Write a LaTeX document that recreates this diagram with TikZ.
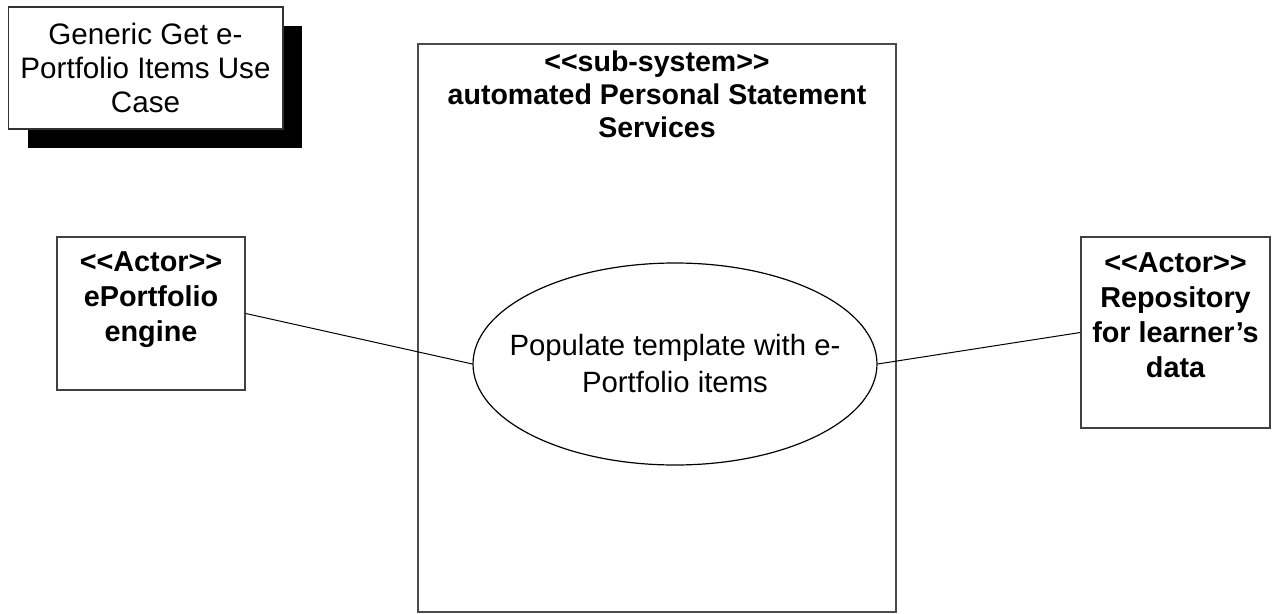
\documentclass[tikz,border=0pt]{standalone}
\usepackage{fontspec}
\setmainfont{Liberation Sans}
\usepackage{tikz}
\usetikzlibrary{calc,positioning,shapes,shadows,arrows}
\newcommand{\stereo}[1]{<\kern0pt<#1>\kern0pt>}
\tikzstyle{NoteBox} = [rectangle, draw=black!80, line width=1pt, fill=white,
    minimum width=206pt, minimum height=91.5pt, align=center,
    font=\fontsize{22.2}{25.5}\selectfont,
    drop shadow={shadow xshift=14.6pt, shadow yshift=-14.6pt, fill=black, opacity=1}]
\tikzstyle{SubSystem} = [rectangle, draw=black!70, line width=1.5pt,
    minimum width=358.5pt, minimum height=426pt]
\tikzstyle{ActorBox} = [rectangle, draw=black!75, line width=1.2pt]
\tikzstyle{BoldText} = [align=center, inner sep=0pt, font=\bfseries\fontsize{21.6}{26.2}\selectfont]
\tikzstyle{UseCase} = [ellipse, draw=black, line width=0.9pt,
    minimum width=303pt, minimum height=151.5pt]
\tikzstyle{link} = [black, line width=0.75pt]

\begin{document}
\begin{tikzpicture}[x=0.75pt, y=-0.75pt]
        \useasboundingbox (0,0) rectangle (1278,614);
        \node [NoteBox] (Title) at (145.5,68) {Generic Get e-\\Portfolio Items Use\\Case}; %title note
        \node [SubSystem] (SubSys) at (657,328) {}; %sub-system frame
        \node [BoldText, font=\bfseries\fontsize{21.4}{24.75}\selectfont] (SubSysTitle) at (657,94) {
            \stereo{sub-system}\\automated Personal Statement\\Services
        };
        \node [ActorBox, minimum width=141pt, minimum height=114.75pt] (Engine) at (151,313.5) {}; %left actor
        \node [BoldText] (EngineText) at (151,299.5) {\stereo{Actor}\\ePortfolio\\engine};
        \node [ActorBox, minimum width=141.75pt, minimum height=143.25pt] (Repo) at (1175.5,332.5) {}; %right actor
        \node [BoldText] (RepoText) at (1175.5,315) {\stereo{Actor}\\Repository\\for learner's\\data};
        \node [UseCase] (Populate) at (675,364) {}; %use case
        \node [align=center, inner sep=0pt, font=\fontsize{22}{27.75}\selectfont] (PopulateText) at (Populate.center) {
            Populate template with e-\\Portfolio items
        };
        \draw [link] (Engine.east) -- (Populate.west);
        \draw [link] (Populate.east) -- (Repo.west);
    \end{tikzpicture}
\end{document}
